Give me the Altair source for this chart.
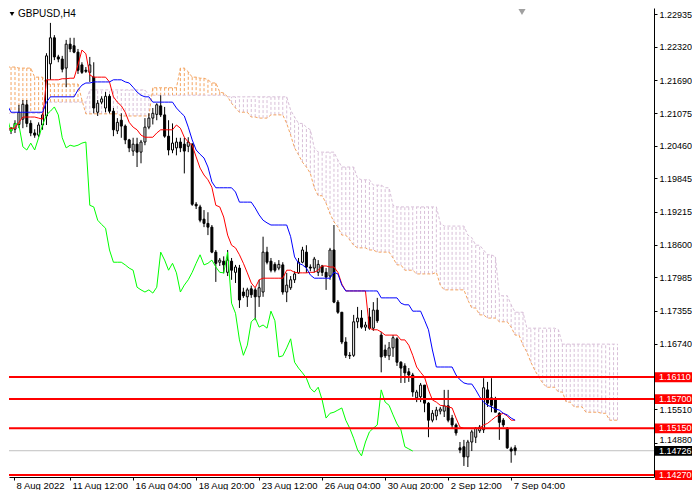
import altair as alt
import pandas as pd

W, H = 645, 469
FONT = "Liberation Sans"
SANDY = "#F4A460"
THISTLE = "#D8BFD8"

# time axis: H4 bar index of each label (view starts at bar 1.75)
tick_bars = [1.75, 16, 32, 48, 64, 80, 96, 112, 128]
tick_labels = ["8 Aug 2022", "11 Aug 12:00", "16 Aug 04:00", "18 Aug 20:00",
               "23 Aug 12:00", "26 Aug 04:00", "30 Aug 20:00", "2 Sep 12:00", "7 Sep 04:00"]

price_ticks = [1.22935, 1.22320, 1.21690, 1.21075, 1.20460, 1.19845, 1.19215,
               1.18600, 1.17985, 1.17355, 1.16740, 1.15510, 1.14880]
levels = [1.16110, 1.15700, 1.15150, 1.14270]
last_price = 1.14726

# GBPUSD H4 candles, bars 0..129
opens = [1.2083, 1.2074, 1.2077, 1.2086, 1.2096, 1.2123, 1.2088, 1.2070, 1.2066, 1.2085,
         1.2102, 1.2200, 1.2249, 1.2213, 1.2209, 1.2192, 1.2237, 1.2234, 1.2222, 1.2198,
         1.2188, 1.2184, 1.2175, 1.2109, 1.2128, 1.2117, 1.2139, 1.2111, 1.2074, 1.2094,
         1.2083, 1.2057, 1.2036, 1.2049, 1.2034, 1.2053, 1.2081, 1.2098, 1.2105, 1.2121,
         1.2104, 1.2064, 1.2038, 1.2042, 1.2053, 1.2049, 1.2045, 1.2049, 1.1936, 1.1931,
         1.1908, 1.1900, 1.1893, 1.1846, 1.1827, 1.1829, 1.1808, 1.1829, 1.1808, 1.1816,
         1.1771, 1.1762, 1.1777, 1.1775, 1.1762, 1.1771, 1.1846, 1.1829, 1.1823, 1.1816,
         1.1822, 1.1771, 1.1779, 1.1794, 1.1807, 1.1827, 1.1846, 1.1818, 1.1816, 1.1808,
         1.1820, 1.1808, 1.1801, 1.1850, 1.1752, 1.1733, 1.1677, 1.1652, 1.1652, 1.1715,
         1.1722, 1.1705, 1.1724, 1.1703, 1.1737, 1.1690, 1.1662, 1.1651, 1.1666, 1.1683,
         1.1639, 1.1632, 1.1621, 1.1615, 1.1572, 1.1574, 1.1596, 1.1562, 1.1530, 1.1538,
         1.1547, 1.1547, 1.1557, 1.1534, 1.1521, 1.1478, 1.1480, 1.1461, 1.1489, 1.1498,
         1.1510, 1.1512, 1.1587, 1.1572, 1.1570, 1.1543, 1.1530, 1.1515, 1.1476, 1.1478]
highs = [1.2086, 1.2081, 1.2094, 1.2123, 1.2132, 1.2132, 1.2094, 1.2077, 1.2090, 1.2107,
         1.2220, 1.2277, 1.2254, 1.2217, 1.2215, 1.2245, 1.2249, 1.2249, 1.2228, 1.2203,
         1.2194, 1.2213, 1.2203, 1.2132, 1.2139, 1.2147, 1.2143, 1.2117, 1.2098, 1.2107,
         1.2086, 1.2059, 1.2061, 1.2061, 1.2057, 1.2098, 1.2107, 1.2117, 1.2126, 1.2141,
         1.2119, 1.2094, 1.2088, 1.2061, 1.2061, 1.2061, 1.2062, 1.2051, 1.1940, 1.1935,
         1.1925, 1.1921, 1.1897, 1.1850, 1.1835, 1.1838, 1.1850, 1.1835, 1.1822, 1.1822,
         1.1779, 1.1779, 1.1783, 1.1779, 1.1794, 1.1875, 1.1856, 1.1835, 1.1827, 1.1831,
         1.1827, 1.1807, 1.1801, 1.1810, 1.1835, 1.1856, 1.1859, 1.1823, 1.1837, 1.1831,
         1.1822, 1.1816, 1.1854, 1.1897, 1.1756, 1.1733, 1.1686, 1.1658, 1.1728, 1.1743,
         1.1737, 1.1715, 1.1741, 1.1752, 1.1760, 1.1696, 1.1672, 1.1677, 1.1690, 1.1686,
         1.1641, 1.1637, 1.1628, 1.1619, 1.1587, 1.1600, 1.1596, 1.1564, 1.1549, 1.1555,
         1.1555, 1.1587, 1.1587, 1.1540, 1.1524, 1.1489, 1.1493, 1.1493, 1.1512, 1.1517,
         1.1521, 1.1609, 1.1602, 1.1609, 1.1574, 1.1545, 1.1534, 1.1517, 1.1480, 1.1483]
lows = [1.2068, 1.2068, 1.2070, 1.2079, 1.2079, 1.2081, 1.2064, 1.2061, 1.2062, 1.2076,
        1.2085, 1.2170, 1.2207, 1.2203, 1.2184, 1.2156, 1.2222, 1.2220, 1.2181, 1.2181,
        1.2183, 1.2166, 1.2107, 1.2102, 1.2124, 1.2109, 1.2107, 1.2064, 1.2068, 1.2061,
        1.2049, 1.2034, 1.2027, 1.2006, 1.2013, 1.2047, 1.2077, 1.2086, 1.2094, 1.2100,
        1.2061, 1.2028, 1.2032, 1.2028, 1.2034, 1.1994, 1.2034, 1.1933, 1.1927, 1.1902,
        1.1893, 1.1878, 1.1844, 1.1790, 1.1820, 1.1806, 1.1801, 1.1794, 1.1788, 1.1741,
        1.1760, 1.1743, 1.1760, 1.1718, 1.1743, 1.1762, 1.1823, 1.1808, 1.1808, 1.1812,
        1.1766, 1.1752, 1.1775, 1.1788, 1.1805, 1.1825, 1.1807, 1.1810, 1.1808, 1.1801,
        1.1801, 1.1775, 1.1794, 1.1750, 1.1730, 1.1673, 1.1647, 1.1645, 1.1649, 1.1703,
        1.1702, 1.1698, 1.1700, 1.1698, 1.1713, 1.1620, 1.1647, 1.1643, 1.1649, 1.1632,
        1.1600, 1.1600, 1.1602, 1.1574, 1.1564, 1.1564, 1.1545, 1.1498, 1.1526, 1.1530,
        1.1541, 1.1536, 1.1526, 1.1515, 1.1501, 1.1468, 1.1444, 1.1442, 1.1472, 1.1487,
        1.1506, 1.1506, 1.1555, 1.1545, 1.1545, 1.1493, 1.1517, 1.1476, 1.1450, 1.1464]
closes = [1.2076, 1.2079, 1.2088, 1.2109, 1.2124, 1.2088, 1.2070, 1.2066, 1.2085, 1.2104,
          1.2215, 1.2249, 1.2213, 1.2209, 1.2190, 1.2237, 1.2228, 1.2222, 1.2188, 1.2184,
          1.2186, 1.2198, 1.2117, 1.2126, 1.2134, 1.2139, 1.2111, 1.2076, 1.2090, 1.2083,
          1.2057, 1.2042, 1.2049, 1.2034, 1.2053, 1.2081, 1.2098, 1.2107, 1.2123, 1.2104,
          1.2064, 1.2038, 1.2051, 1.2053, 1.2042, 1.2036, 1.2053, 1.1936, 1.1933, 1.1906,
          1.1900, 1.1893, 1.1846, 1.1825, 1.1831, 1.1822, 1.1831, 1.1812, 1.1818, 1.1756,
          1.1764, 1.1775, 1.1766, 1.1762, 1.1779, 1.1846, 1.1827, 1.1812, 1.1812, 1.1823,
          1.1771, 1.1784, 1.1794, 1.1805, 1.1827, 1.1850, 1.1818, 1.1816, 1.1833, 1.1823,
          1.1808, 1.1799, 1.1850, 1.1752, 1.1733, 1.1677, 1.1652, 1.1651, 1.1715, 1.1722,
          1.1705, 1.1709, 1.1703, 1.1737, 1.1717, 1.1649, 1.1651, 1.1666, 1.1685, 1.1639,
          1.1628, 1.1619, 1.1615, 1.1583, 1.1583, 1.1596, 1.1562, 1.1530, 1.1543, 1.1549,
          1.1551, 1.1557, 1.1530, 1.1521, 1.1506, 1.1474, 1.1461, 1.1489, 1.1508, 1.1515,
          1.1517, 1.1591, 1.1562, 1.1558, 1.1545, 1.1526, 1.1521, 1.1478, 1.1472, 1.14726]

# Ichimoku lines, as (value, number of bars) runs
tenkan_runs = [(1.2076, 1), (1.2079, 2), (1.2090, 1), (1.2100, 4), (1.2098, 1), (1.2096, 1),
               (1.2170, 4), (1.2172, 2), (1.2173, 2), (1.2198, 1), (1.2226, 1), (1.2219, 1),
               (1.2179, 1), (1.2175, 4), (1.2166, 1), (1.2138, 1), (1.2128, 1), (1.2121, 1),
               (1.2109, 1), (1.2090, 1), (1.2081, 1), (1.2076, 1), (1.2066, 1), (1.2062, 3),
               (1.2070, 1), (1.2076, 4), (1.2085, 1), (1.2079, 1), (1.2062, 1), (1.2053, 1),
               (1.2047, 1), (1.2025, 1), (1.2004, 1), (1.1991, 1), (1.1982, 1), (1.1968, 1),
               (1.1934, 1), (1.1931, 1), (1.1912, 1), (1.1878, 1), (1.1859, 1), (1.1854, 1),
               (1.1841, 1), (1.1825, 1), (1.1807, 1), (1.1788, 1), (1.1779, 1), (1.1794, 1),
               (1.1797, 6), (1.1812, 2), (1.1808, 1), (1.1807, 3), (1.1808, 2), (1.1812, 1),
               (1.1820, 2), (1.1818, 2), (1.1808, 1), (1.1786, 1), (1.1773, 6), (1.1703, 1),
               (1.1700, 2), (1.1696, 1), (1.1690, 4), (1.1681, 2), (1.1671, 1), (1.1652, 1),
               (1.1630, 1), (1.1620, 1), (1.1611, 1), (1.1587, 1), (1.1568, 1), (1.1564, 1),
               (1.1558, 1), (1.1557, 1), (1.1555, 1), (1.1553, 1), (1.1534, 1), (1.1517, 1),
               (1.1515, 5), (1.1521, 1), (1.1524, 1), (1.1530, 1), (1.1536, 1), (1.1540, 1),
               (1.1543, 1), (1.1538, 1), (1.1530, 2)]
kijun_runs = [(1.2123, 1), (1.2109, 9), (1.2128, 1), (1.2138, 7), (1.2151, 1), (1.2160, 1),
              (1.2164, 2), (1.2166, 5), (1.2170, 3), (1.2166, 1), (1.2164, 1), (1.2156, 1),
              (1.2147, 1), (1.2141, 1), (1.2138, 2), (1.2128, 6), (1.2117, 1), (1.2109, 1),
              (1.2102, 1), (1.2081, 1), (1.2057, 1), (1.2038, 1), (1.2030, 1), (1.2023, 1),
              (1.2006, 1), (1.1978, 1), (1.1967, 5), (1.1959, 1), (1.1940, 4), (1.1929, 1),
              (1.1916, 1), (1.1906, 1), (1.1901, 1), (1.1897, 5), (1.1875, 1), (1.1837, 1),
              (1.1825, 1), (1.1822, 1), (1.1816, 1), (1.1803, 1), (1.1797, 5), (1.1808, 1),
              (1.1805, 1), (1.1784, 1), (1.1773, 9), (1.1760, 5), (1.1750, 1), (1.1747, 2),
              (1.1735, 3), (1.1718, 1), (1.1700, 1), (1.1662, 1), (1.1630, 5), (1.1615, 1),
              (1.1606, 1), (1.1600, 1), (1.1598, 2), (1.1587, 1), (1.1574, 1), (1.1564, 1),
              (1.1558, 1), (1.1555, 1), (1.1551, 1), (1.1549, 1), (1.1543, 1), (1.1540, 1),
              (1.1534, 1), (1.1530, 1)]
span_a_runs = [(1.2194, 3), (1.2192, 4), (1.2175, 3), (1.2162, 9), (1.2132, 1), (1.2106, 9),
               (1.2102, 8), (1.2155, 7), (1.2192, 2), (1.2185, 1), (1.2175, 2), (1.2173, 2),
               (1.2170, 1), (1.2164, 2), (1.2147, 1), (1.2145, 1), (1.2138, 1), (1.2126, 1),
               (1.2117, 1), (1.2109, 3), (1.2100, 2), (1.2098, 3), (1.2104, 4), (1.2088, 1),
               (1.2066, 1), (1.2042, 1), (1.2029, 1), (1.2015, 1), (1.2006, 1), (1.1994, 1),
               (1.1967, 1), (1.1952, 2), (1.1938, 1), (1.1918, 1), (1.1903, 1), (1.1893, 1),
               (1.1878, 2), (1.1869, 1), (1.1859, 1), (1.1854, 3), (1.1850, 2), (1.1846, 4),
               (1.1835, 1), (1.1822, 2), (1.1812, 3), (1.1805, 5), (1.1808, 1), (1.1784, 1),
               (1.1775, 6), (1.1756, 1), (1.1741, 2), (1.1728, 2), (1.1722, 3), (1.1715, 3),
               (1.1705, 1), (1.1690, 2), (1.1671, 1), (1.1658, 1), (1.1639, 1), (1.1624, 1),
               (1.1611, 1), (1.1600, 1), (1.1592, 3), (1.1583, 2), (1.1564, 2), (1.1555, 3),
               (1.1545, 4), (1.1543, 2), (1.1530, 3)]
span_b_runs = [(1.2107, 10), (1.2128, 11), (1.2151, 15), (1.2141, 20), (1.2138, 16),
               (1.2113, 1), (1.2100, 1), (1.2088, 2), (1.2081, 1), (1.2076, 1), (1.2042, 1),
               (1.2034, 5), (1.2019, 1), (1.2006, 4), (1.1985, 1), (1.1982, 3), (1.1972, 3),
               (1.1967, 2), (1.1934, 1), (1.1931, 11), (1.1901, 1), (1.1895, 6), (1.1878, 1),
               (1.1873, 1), (1.1859, 2), (1.1850, 1), (1.1841, 2), (1.1837, 1), (1.1764, 3),
               (1.1747, 1), (1.1733, 3), (1.1703, 8), (1.1700, 1), (1.1673, 15)]
chikou = [1.2100, 1.2072, 1.2088, 1.2085, 1.2044, 1.2038, 1.2051, 1.2038, 1.2061, 1.2085,
          1.2104, 1.2111, 1.2119, 1.2104, 1.2061, 1.2042, 1.2047, 1.2045, 1.2047, 1.2051,
          1.2053, 1.1934, 1.1931, 1.1906, 1.1898, 1.1891, 1.1850, 1.1827, 1.1827, 1.1827,
          1.1822, 1.1816, 1.1812, 1.1780, 1.1775, 1.1771, 1.1775, 1.1769, 1.1780, 1.1846,
          1.1831, 1.1812, 1.1825, 1.1807, 1.1771, 1.1784, 1.1794, 1.1808, 1.1825, 1.1841,
          1.1822, 1.1825, 1.1831, 1.1818, 1.1808, 1.1807, 1.1846, 1.1750, 1.1731, 1.1681,
          1.1652, 1.1671, 1.1715, 1.1722, 1.1705, 1.1709, 1.1703, 1.1735, 1.1717, 1.1649,
          1.1651, 1.1666, 1.1683, 1.1639, 1.1628, 1.1619, 1.1609, 1.1590, 1.1583, 1.1592,
          1.1568, 1.1534, 1.1543, 1.1545, 1.1549, 1.1553, 1.1530, 1.1515, 1.1496, 1.1474,
          1.1463, 1.1489, 1.1508, 1.1515, 1.1521, 1.1587, 1.1564, 1.1558, 1.1540, 1.1523,
          1.1512, 1.1480, 1.1476, 1.1472]


def expand(runs):
    return [v for v, n in runs for _ in range(n)]


candles = pd.DataFrame({"i": range(len(opens)), "open": opens, "high": highs,
                        "low": lows, "close": closes})
lines = pd.DataFrame({"i": range(len(opens)), "tenkan": expand(tenkan_runs),
                      "kijun": expand(kijun_runs)})
lag = pd.DataFrame({"i": range(len(chikou)), "chikou": chikou})
a_vals, b_vals = expand(span_a_runs), expand(span_b_runs)
cloud = pd.DataFrame({"i": range(len(a_vals)), "a": a_vals, "b": b_vals})
tags = pd.DataFrame({"price": levels + [last_price],
                     "label": [f"{p:.5f}" for p in levels + [last_price]],
                     "bg": ["red"] * len(levels) + ["black"]})

label_expr = " : ".join(f"datum.value == {v} ? '{t}'" for v, t in zip(tick_bars, tick_labels)) + " : ''"

x_scale = alt.Scale(domain=[1.75, 163.0], nice=False, zero=False)
y_scale = alt.Scale(domain=[1.14232, 1.2305], nice=False, zero=False)
x_axis = alt.Axis(values=tick_bars, labelExpr=label_expr, labelAlign="left", labelOffset=2,
                  labelPadding=0, tickSize=3, tickColor="black", domainColor="black",
                  labelColor="black", labelFont=FONT, labelFontSize=9.5, grid=False,
                  labelOverlap=False, labelFlush=False, labelBound=False)
# the label just above the last-price tag sits on its tick's baseline so the two stay apart
y_axis = alt.Axis(orient="right", values=price_ticks, format=".5f", tickSize=3, labelPadding=2,
                  tickColor="black", domainColor="black", labelColor="black", labelFont=FONT,
                  labelFontSize=9, grid=False, labelOverlap=False, labelFlush=False,
                  labelBaseline={"condition": {"test": "datum.value > 1.148 && datum.value < 1.1495",
                                               "value": "alphabetic"},
                                 "value": "middle"})


def X():
    return alt.X("i:Q", scale=x_scale, axis=x_axis, title=None)


def Y(field):
    return alt.Y(f"{field}:Q", scale=y_scale, axis=y_axis, title=None)


# Kumo: dotted vertical hatch between the two spans
hatch = alt.Chart(cloud).mark_rule(strokeDash=[3, 2], strokeWidth=1, clip=True).encode(
    x=X(), y=Y("a"), y2="b:Q",
    color=alt.when(alt.datum.a >= alt.datum.b).then(alt.value(SANDY)).otherwise(alt.value(THISTLE)),
)
span_b = alt.Chart(cloud).mark_line(color=THISTLE, strokeDash=[3, 2], strokeWidth=1, clip=True).encode(
    x=X(), y=Y("b"))
span_a = alt.Chart(cloud).mark_line(color=SANDY, strokeDash=[3, 2], strokeWidth=1, clip=True).encode(
    x=X(), y=Y("a"))

price_line = alt.Chart(tags.tail(1)).mark_rule(color="#C0C0C0", strokeWidth=1).encode(y=Y("price"))

wicks = alt.Chart(candles).mark_rule(color="black", strokeWidth=1, clip=True).encode(
    x=X(), y=Y("low"), y2="high:Q")
bodies = alt.Chart(candles).mark_bar(size=2, stroke="black", strokeWidth=1, clip=True).encode(
    x=X(), y=Y("open"), y2="close:Q",
    fill=alt.when(alt.datum.close >= alt.datum.open).then(alt.value("white")).otherwise(alt.value("black")),
)

chikou_line = alt.Chart(lag).mark_line(color="#00FF00", strokeWidth=1, clip=True).encode(
    x=X(), y=Y("chikou"))
tenkan_line = alt.Chart(lines).mark_line(color="red", strokeWidth=1, clip=True).encode(
    x=X(), y=Y("tenkan"))
kijun_line = alt.Chart(lines).mark_line(color="blue", strokeWidth=1, clip=True).encode(
    x=X(), y=Y("kijun"))

level_lines = alt.Chart(tags.head(len(levels))).mark_rule(color="red", strokeWidth=2).encode(
    y=Y("price"))

# price tags on the right scale
tag_boxes = alt.Chart(tags).transform_calculate(
    top="datum.price + 0.00090", bot="datum.price - 0.00095"
).mark_rect().encode(
    x=alt.value(W + 1), x2=alt.value(W + 38), y=Y("top"), y2="bot:Q",
    color=alt.Color("bg:N", scale=None),
)
tag_text = alt.Chart(tags).mark_text(align="left", baseline="middle", color="white",
                                      font=FONT, fontSize=9).encode(
    x=alt.value(W + 5), y=Y("price"), text="label:N")

symbol = alt.Chart(pd.DataFrame({"t": ["GBPUSD,H4"]})).mark_text(
    align="left", baseline="top", font=FONT, fontSize=10, color="black"
).encode(x=alt.value(9), y=alt.value(1), text="t:N")
symbol_arrow = alt.Chart(pd.DataFrame({"t": [0]})).mark_point(
    shape="triangle-down", filled=True, size=22, color="black", opacity=1
).encode(x=alt.value(3), y=alt.value(6))
shift_mark = alt.Chart(pd.DataFrame({"t": [0]})).mark_point(
    shape="triangle-down", filled=True, size=50, color="#A0A0A0", opacity=1
).encode(x=alt.value(513), y=alt.value(4))

chart = alt.layer(
    hatch, span_b, span_a, price_line, wicks, bodies, chikou_line, tenkan_line, kijun_line,
    level_lines, tag_boxes, tag_text, symbol, symbol_arrow, shift_mark,
).properties(
    width=W, height=H, padding=0, background="white"
).configure_view(stroke=None)

chart.save("out.html", embed_options={"renderer": "svg", "actions": False})
